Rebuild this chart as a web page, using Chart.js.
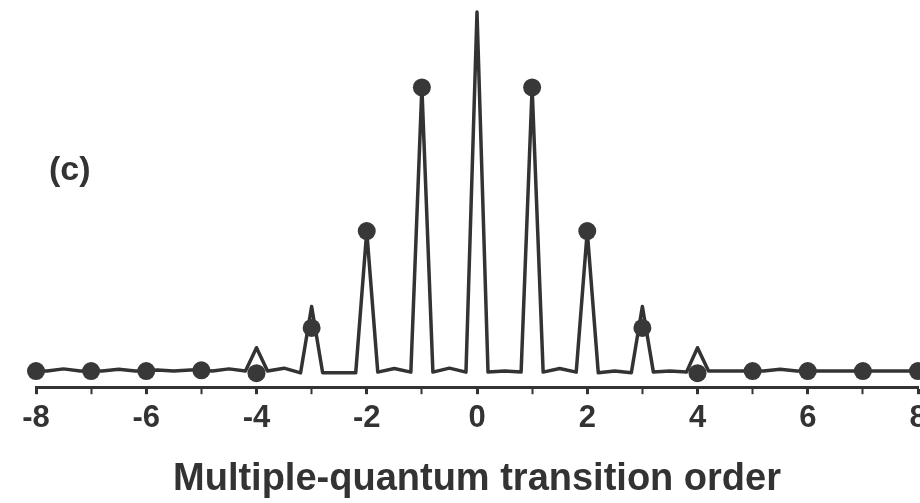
<!DOCTYPE html>
<html>
<head>
<meta charset="utf-8">
<script src="https://cdn.jsdelivr.net/npm/chart.js@4/dist/chart.umd.min.js"></script>
<style>
  html, body { margin: 0; padding: 0; background: #fff; overflow: hidden; }
  #wrap { position: absolute; left: 0; top: 0; width: 940px; height: 503px; }
  #panel {
    position: absolute; left: 49px; top: 151px;
    font: bold 34px "Liberation Sans", Arial, sans-serif;
    line-height: 34px; color: #333;
  }
</style>
</head>
<body>
<div id="wrap">
  <canvas id="mqChart" width="940" height="503"></canvas>
  <div id="panel">(c)</div>
</div>
<script>
// Measured spectrum (sampled around each order)
var specOrders = [
  -8, -7.8, -7.5, -7.2, -7, -6.8, -6.5, -6.2, -6, -5.8, -5.5, -5.2,
  -5, -4.8, -4.5, -4.2, -4, -3.8, -3.5, -3.2, -3, -2.8, -2.5, -2.2,
  -2, -1.8, -1.5, -1.2, -1, -0.8, -0.5, -0.2, 0, 0.2, 0.5, 0.8,
  1, 1.2, 1.5, 1.8, 2, 2.2, 2.5, 2.8, 3, 3.2, 3.5, 3.8,
  4, 4.2, 4.5, 4.8, 5, 5.2, 5.5, 5.8, 6, 6.2, 6.5, 6.8,
  7, 7.2, 7.5, 7.8, 8
];
var specValues = [
  0, 0, 0.6, 0, 0, 0, 0.5, 0, 0, 0.3, 0, 0.3,
  0.3, 0, 0.6, 0, 6.5, 0, 0.8, -0.5, 18, -0.5, -0.5, -0.5,
  39, -0.3, 0.7, -0.3, 79, -0.3, 0.8, -0.3, 100, -0.3, 0, -0.3,
  79, -0.3, 0.7, -0.3, 39, -0.5, 0, -0.5, 18, -0.3, 0, -0.3,
  6.5, 0, 0, 0, 0, 0, 0.5, 0, 0, 0, 0, 0,
  0, 0, 0, 0, 0
];

// Calculated intensities at each order (no point at zero)
var calcOrders = [-8, -7, -6, -5, -4, -3, -2, -1, 1, 2, 3, 4, 5, 6, 7, 8];
var calcValues = [0, 0, 0, 0.2, -0.6, 12, 39, 79, 79, 39, 12, -0.6, 0, 0, 0, 0];

var axisLabel = 'Multiple-quantum transition order';
var fontFamily = '"Liberation Sans", Arial, sans-serif';
var ink = '#333333';

function toPoints(xs, ys) {
    var pts = [];
    for (var i = 0; i < xs.length; i++) {
        pts.push({ x: xs[i], y: ys[i] });
    }
    return pts;
}

var ctx = document.getElementById('mqChart').getContext('2d');

window.myChart = new Chart(ctx, {
    type: 'scatter',
    data: {
        datasets: [
            {
                label: 'calculated',
                data: toPoints(calcOrders, calcValues),
                showLine: false,
                pointRadius: 9,
                pointHoverRadius: 9,
                pointBackgroundColor: '#383838',
                pointBorderWidth: 0,
                clip: false
            },
            {
                label: 'spectrum',
                data: toPoints(specOrders, specValues),
                showLine: true,
                borderColor: ink,
                borderWidth: 3.5,
                borderJoinStyle: 'round',
                pointRadius: 0,
                tension: 0,
                clip: false
            }
        ]
    },
    options: {
        responsive: false,
        animation: false,
        layout: {
            padding: { left: 36, right: 22, top: 12, bottom: 1 }
        },
        plugins: {
            legend: { display: false },
            tooltip: { enabled: false }
        },
        scales: {
            x: {
                type: 'linear',
                min: -8,
                max: 8,
                grid: {
                    drawOnChartArea: false,
                    drawTicks: true,
                    tickLength: 7,
                    tickColor: ink,
                    tickWidth: function (c) {
                        return c.tick && c.tick.value % 2 === 0 ? 3 : 2;
                    }
                },
                border: { display: true, color: ink, width: 3 },
                ticks: {
                    stepSize: 1,
                    padding: 6,
                    maxRotation: 0,
                    autoSkip: false,
                    color: ink,
                    font: { family: fontFamily, size: 31, weight: 'bold' },
                    callback: function (value) {
                        return value % 2 === 0 ? String(value) : '';
                    }
                },
                title: {
                    display: true,
                    text: axisLabel,
                    color: ink,
                    padding: { top: 13, bottom: 0 },
                    font: { family: fontFamily, size: 38, weight: 'bold' }
                }
            },
            y: {
                display: false,
                min: -4.5,
                max: 100
            }
        }
    }
});
</script>
</body>
</html>
